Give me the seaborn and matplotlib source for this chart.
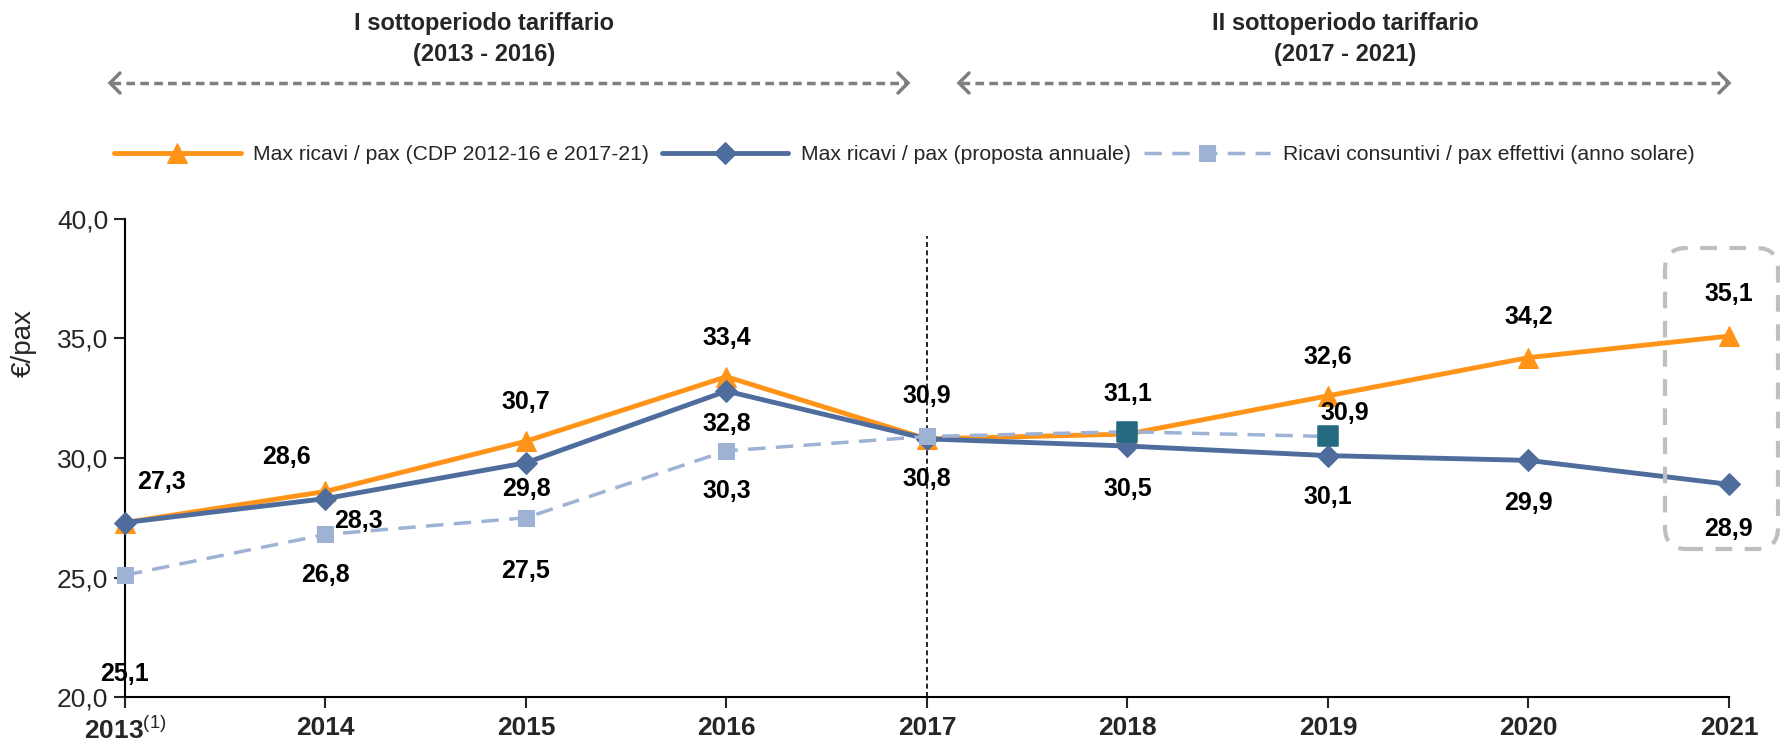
import numpy as np
import pandas as pd
import matplotlib
matplotlib.use("Agg")
import matplotlib.pyplot as plt
import seaborn as sns
from matplotlib.lines import Line2D
from matplotlib.patches import FancyBboxPatch
from matplotlib.ticker import FuncFormatter

# --- data -----------------------------------------------------------------
years = [2013, 2014, 2015, 2016, 2017, 2018, 2019, 2020, 2021]
year_labels = [r"2013$^{\mathrm{(1)}}$", "2014", "2015", "2016", "2017",
               "2018", "2019", "2020", "2021"]

cdp_max = [27.3, 28.6, 30.7, 33.4, 30.8, 31.0, 32.6, 34.2, 35.1]
proposta_max = [27.3, 28.3, 29.8, 32.8, 30.8, 30.5, 30.1, 29.9, 28.9]
consuntivi_years = [2013, 2014, 2015, 2016, 2017, 2018, 2019]
consuntivi = [25.1, 26.8, 27.5, 30.3, 30.9, 31.1, 30.9]

series_names = ["Max ricavi / pax (CDP 2012-16 e 2017-21)",
                "Max ricavi / pax (proposta annuale)",
                "Ricavi consuntivi / pax effettivi (anno solare)"]
period_titles = ["I sottoperiodo tariffario\n(2013 - 2016)",
                 "II sottoperiodo tariffario\n(2017 - 2021)"]

ORANGE = "#FF9419"
BLUE = "#4E6D9D"
LIGHT = "#9DB2D4"
TEAL = "#23697F"


def fmt(v):
    return f"{v:.1f}".replace(".", ",")


sns.set_style("white")
plt.rcParams["font.family"] = ["Liberation Sans", "DejaVu Sans"]
plt.rcParams["mathtext.fontset"] = "custom"
plt.rcParams["mathtext.rm"] = "Liberation Sans"

fig = plt.figure(figsize=(17.8, 7.42), dpi=100)
ax = fig.add_axes([0.0702, 0.0606, 0.9011, 0.6443])

df_cdp = pd.DataFrame({"anno": years, "valore": cdp_max})
df_prop = pd.DataFrame({"anno": years, "valore": proposta_max})
df_cons = pd.DataFrame({"anno": consuntivi_years, "valore": consuntivi})

sns.lineplot(data=df_cdp, x="anno", y="valore", ax=ax, color=ORANGE, lw=3.5,
             marker="^", markersize=15, markeredgecolor=ORANGE,
             label=series_names[0], zorder=2, clip_on=False)
sns.lineplot(data=df_prop, x="anno", y="valore", ax=ax, color=BLUE, lw=3.5,
             marker="D", markersize=11, markeredgecolor=BLUE,
             label=series_names[1], zorder=3, clip_on=False)
sns.lineplot(data=df_cons, x="anno", y="valore", ax=ax, color=LIGHT, lw=2.5,
             linestyle=(0, (5, 3)), marker="s", markersize=12,
             markeredgecolor=LIGHT, label=series_names[2], zorder=4,
             clip_on=False)
# last two actual values highlighted in a darker colour
sns.scatterplot(data=df_cons[df_cons["anno"] >= 2018], x="anno", y="valore",
                ax=ax, color=TEAL, marker="s", s=190, edgecolor=TEAL,
                legend=False, zorder=5)

if ax.get_legend() is not None:
    ax.get_legend().remove()

# data label offsets in points, per series and year
orange_lbl = {2013: (26, 29), 2014: (-28, 25), 2015: (0, 28), 2016: (0, 28),
              2019: (0, 28), 2020: (0, 29), 2021: (0, 30)}
blue_lbl = {2014: (24, -16), 2015: (0, -19), 2016: (0, -24), 2017: (0, -29),
            2018: (0, -31), 2019: (0, -30), 2020: (0, -31), 2021: (0, -32)}
light_lbl = {2013: (0, -71), 2014: (0, -29), 2015: (0, -38), 2016: (0, -29),
             2017: (0, 29), 2018: (0, 27), 2019: (12, 17)}

for xs, vals, offs in [(years, cdp_max, orange_lbl),
                       (years, proposta_max, blue_lbl),
                       (consuntivi_years, consuntivi, light_lbl)]:
    for x, v in zip(xs, vals):
        if x in offs:
            ax.annotate(fmt(v), (x, v), xytext=offs[x],
                        textcoords="offset points", ha="center", va="center",
                        fontsize=18, fontweight="bold", color="black",
                        zorder=6, annotation_clip=False)

ax.axvline(2017, ymin=0, ymax=(39.3 - 20) / 20, color="black", lw=1.2,
           linestyle=(0, (3, 2)), zorder=1)

ax.set_xlim(2013, 2021)
ax.set_ylim(20, 40)
ax.set_xticks(years)
ax.set_xticklabels(year_labels, fontsize=19, fontweight="bold")
ax.set_yticks([20, 25, 30, 35, 40])
ax.yaxis.set_major_formatter(FuncFormatter(lambda v, p: fmt(v)))
ax.tick_params(axis="y", labelsize=19, direction="out", length=8, width=1.5,
               left=True, pad=4)
ax.tick_params(axis="x", direction="out", length=8, width=1.5, bottom=True,
               pad=6)
ax.set_xlabel("")
ax.set_ylabel("")
for side in ["top", "right"]:
    ax.spines[side].set_visible(False)
for side in ["left", "bottom"]:
    ax.spines[side].set_color("black")
    ax.spines[side].set_linewidth(1.5)
ax.grid(False)

fig.text(24 / 1780, 1 - 343 / 742, "€/pax", rotation=90, fontsize=20,
         ha="center", va="center")

# legend
handles, labels = ax.get_legend_handles_labels()
fig.legend(handles, labels, loc="center", bbox_to_anchor=(0.508, 1 - 155 / 742),
           ncol=3, frameon=False, fontsize=15.2, handlelength=6.0,
           handletextpad=0.6, columnspacing=0.6)

# period headers and dashed double arrows
W, H = 1780, 742
GRAY = "#7F7F7F"
for title, xc, (xa, xb) in [(period_titles[0], 484, (110, 908)),
                            (period_titles[1], 1345, (959, 1729))]:
    fig.text(xc / W, 1 - 39 / H, title, ha="center", va="center",
             fontsize=17, fontweight="bold", linespacing=1.4)
    ya = 1 - 83 / H
    fig.add_artist(Line2D([(xa + 2) / W, (xb - 2) / W], [ya, ya],
                          transform=fig.transFigure, color=GRAY, lw=2.5,
                          linestyle=(0, (2.5, 1.5))))
    for xe, sgn in [(xa, 1), (xb, -1)]:
        fig.add_artist(Line2D([(xe + sgn * 10) / W, xe / W, (xe + sgn * 10) / W],
                              [ya + 10 / H, ya, ya - 10 / H],
                              transform=fig.transFigure, color=GRAY, lw=2.5,
                              solid_joinstyle="miter"))

# rounded dashed box around 2021
box = FancyBboxPatch((1665 / W, 1 - 549 / H), 113 / W, 301 / H,
                     boxstyle="round,pad=0,rounding_size=0.012",
                     mutation_aspect=W / H, transform=fig.transFigure,
                     fill=False, edgecolor="#BFBFBF", lw=3,
                     linestyle=(0, (4, 3)), clip_on=False)
fig.add_artist(box)

fig.savefig("out.png", dpi=100)
